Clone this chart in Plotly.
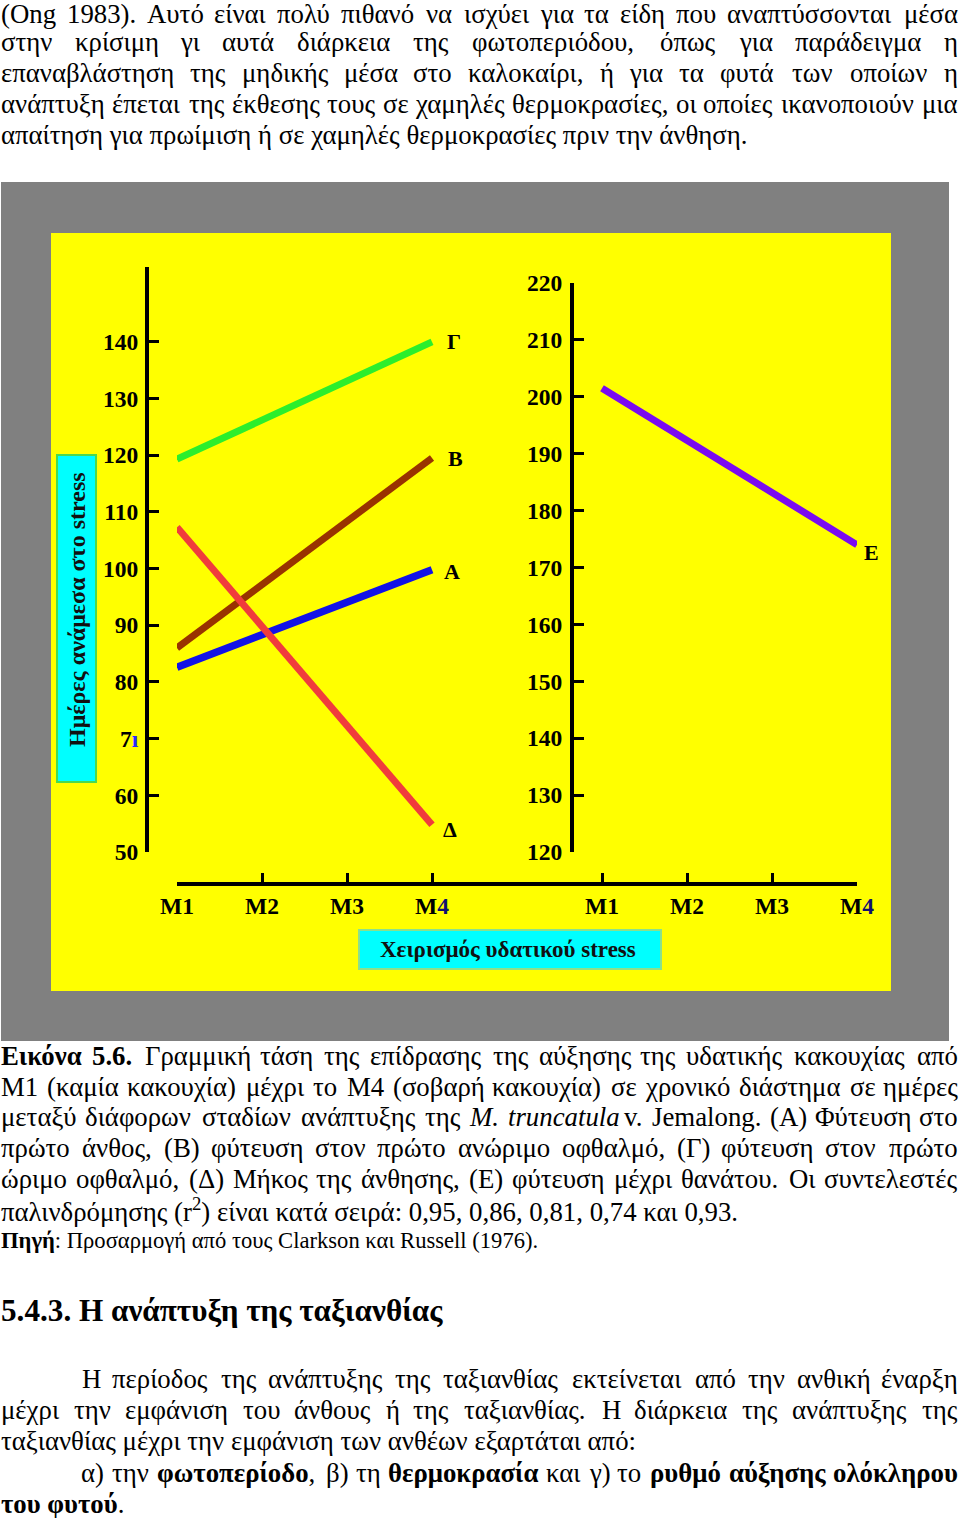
import unicodedata
import plotly.graph_objects as go

W, H = 960, 1518

# ---------------- data ----------------
stress_labels = ["M1", "M2", "M3", "M4"]
stage_pos_left = [0, 1, 2, 3]
stage_pos_right = [5, 6, 7, 8]
trend_x_left = [0, 3]          # M1 -> M4 (left panel)
trend_x_right = [5, 8]         # M1 -> M4 (right panel)

days_A = [82.6, 99.8]          # planting to first flower
days_B = [86.0, 119.5]         # planting to first immature pod
days_G = [119.3, 140.0]        # planting to first mature pod
days_D = [107.3, 54.8]         # flowering duration
days_E = [201.5, 174.0]        # planting to death (right axis)

left_tick_vals = [50, 60, 70, 80, 90, 100, 110, 120, 130, 140]
left_tick_text = ["50", "60", "7<span style='color:#2a2aff'>ı</span>", "80", "90",
                  "100", "110", "120", "130", "140"]
left_axis_top = 153.2
right_tick_vals = [120, 130, 140, 150, 160, 170, 180, 190, 200, 210, 220]
right_tick_text = ["120", "130", "140", "150", "160", "170", "180", "190", "200", "210", "220"]

top_lines = [
    "(Ong 1983). Αυτό είναι πολύ πιθανό να ισχύει για τα είδη που αναπτύσσονται μέσα",
    "στην κρίσιμη γι αυτά διάρκεια της φωτοπεριόδου, όπως για παράδειγμα η",
    "επαναβλάστηση της μηδικής μέσα στο καλοκαίρι, ή για τα φυτά των οποίων η",
    "ανάπτυξη έπεται της έκθεσης τους σε χαμηλές θερμοκρασίες, οι οποίες ικανοποιούν μια",
    "απαίτηση για πρωίμιση ή σε χαμηλές θερμοκρασίες πριν την άνθηση.",
]
caption_lines = [
    "<b>Εικόνα</b> <b>5.6.</b> Γραμμική τάση της επίδρασης της αύξησης της υδατικής κακουχίας από",
    "M1 (καμία κακουχία) μέχρι το M4 (σοβαρή κακουχία) σε χρονικό διάστημα σε ημέρες",
    "μεταξύ διάφορων σταδίων ανάπτυξης της <i>M.</i> <i>truncatula</i> v. Jemalong. (A) Φύτευση στο",
    "πρώτο άνθος, (B) φύτευση στον πρώτο ανώριμο οφθαλμό, (Γ) φύτευση στον πρώτο",
    "ώριμο οφθαλμό, (Δ) Μήκος της άνθησης, (E) φύτευση μέχρι θανάτου. Οι συντελεστές",
    "παλινδρόμησης (r<sup>2</sup>) είναι κατά σειρά: 0,95, 0,86, 0,81, 0,74 και 0,93.",
]
source_line = "<b>Πηγή</b>: Προσαρμογή από τους Clarkson και Russell (1976)."
heading = "<b>5.4.3. Η ανάπτυξη της ταξιανθίας</b>"
body_lines = [
    "Η περίοδος της ανάπτυξης της ταξιανθίας εκτείνεται από την ανθική έναρξη",
    "μέχρι την εμφάνιση του άνθους ή της ταξιανθίας. Η διάρκεια της ανάπτυξης της",
    "ταξιανθίας μέχρι την εμφάνιση των ανθέων εξαρτάται από:",
    "α) την <b>φωτοπερίοδο</b>, β) τη <b>θερμοκρασία</b> και γ) το <b>ρυθμό</b> <b>αύξησης</b> <b>ολόκληρου</b>",
    "<b>του φυτού</b>.",
]
y_title = "Ημέρες ανάμεσα στο stress"
x_title = "Χειρισμός υδατικού stress"

# ---------------- helpers ----------------
SERIF = "Liberation Serif"


def fx(p):
    return p / W


def fy(p):
    return 1 - p / H


CW = {' ': .25, ',': .25, '.': .25, ':': .278, ';': .278, '(': .333, ')': .333, '-': .333}
for c in '0123456789':
    CW[c] = .5
CW.update({'a': .444, 'b': .5, 'c': .444, 'd': .5, 'e': .444, 'f': .333, 'g': .5, 'h': .5,
           'i': .278, 'j': .278, 'k': .5, 'l': .278, 'm': .778, 'n': .5, 'o': .5, 'p': .5,
           'q': .5, 'r': .333, 's': .389, 't': .278, 'u': .5, 'v': .5, 'w': .722, 'x': .5,
           'y': .5, 'z': .444,
           'A': .722, 'B': .667, 'C': .667, 'D': .722, 'E': .611, 'F': .556, 'G': .722,
           'H': .722, 'I': .333, 'J': .389, 'K': .722, 'L': .611, 'M': .889, 'N': .722,
           'O': .722, 'P': .556, 'Q': .722, 'R': .667, 'S': .556, 'T': .611, 'U': .722,
           'V': .722, 'W': .944, 'X': .722, 'Y': .722, 'Z': .611})
GREEK = {'α': .55, 'β': .52, 'γ': .47, 'δ': .52, 'ε': .44, 'ζ': .45, 'η': .52, 'θ': .52,
         'ι': .29, 'κ': .52, 'λ': .5, 'μ': .55, 'ν': .49, 'ξ': .45, 'ο': .52, 'π': .55,
         'ρ': .52, 'σ': .55, 'ς': .44, 'τ': .45, 'υ': .51, 'φ': .65, 'χ': .49, 'ψ': .7,
         'ω': .71,
         'Α': .72, 'Β': .67, 'Γ': .6, 'Δ': .66, 'Ε': .61, 'Ζ': .61, 'Η': .72, 'Θ': .72,
         'Ι': .33, 'Κ': .72, 'Λ': .7, 'Μ': .89, 'Ν': .72, 'Ξ': .65, 'Ο': .72, 'Π': .72,
         'Ρ': .56, 'Σ': .6, 'Τ': .61, 'Υ': .72, 'Φ': .76, 'Χ': .72, 'Ψ': .8, 'Ω': .77}
GREEK_SCALE = 0.955
CW.update({k: v * GREEK_SCALE for k, v in GREEK.items()})


def char_w(ch):
    if ch in CW:
        return CW[ch]
    base = unicodedata.normalize('NFD', ch)[0]
    return CW.get(base, .5)


def markup_width(s, size):
    bold = sup = False
    w = 0.0
    i = 0
    while i < len(s):
        if s[i] == '<':
            j = s.index('>', i)
            tag = s[i + 1:j]
            if tag == 'b':
                bold = True
            elif tag == '/b':
                bold = False
            elif tag == 'sup':
                sup = True
            elif tag == '/sup':
                sup = False
            i = j + 1
            continue
        cw = char_w(s[i])
        if bold:
            cw *= 1.06
        if sup:
            cw *= 0.7
        w += cw
        i += 1
    return w * size


annotations = []
ASC, DESC = 0.891, 0.216


def text_line(markup, x0, x1, baseline, size, justify):
    yc = fy(baseline - (ASC - DESC) / 2 * size)
    font = dict(family=SERIF, size=size, color="black")
    if not justify:
        annotations.append(dict(text=markup, x=fx(x0), y=yc, xref="paper", yref="paper",
                                xanchor="left", yanchor="middle", showarrow=False,
                                borderpad=0, borderwidth=0, font=font))
        return
    words = markup.split(' ')
    widths = [markup_width(w, size) for w in words]
    gap = (x1 - x0 - sum(widths)) / (len(words) - 1)
    gap = max(gap, 0.15 * size)
    pos = x0
    for k, wd in enumerate(words):
        last = k == len(words) - 1
        annotations.append(dict(text=wd, x=fx(x1 if last else pos), y=yc,
                                xref="paper", yref="paper",
                                xanchor="right" if last else "left", yanchor="middle",
                                showarrow=False, borderpad=0, borderwidth=0, font=font))
        pos += widths[k] + gap


BODY = 26.8
# top paragraph
top_base = [23.5, 51, 82, 113, 144.5]
for k, ln in enumerate(top_lines):
    text_line(ln, 1, 958, top_base[k], BODY, k < 4)
# caption
cap_base = [1065, 1096, 1126.5, 1157.5, 1188.5, 1219]
for k, ln in enumerate(caption_lines):
    text_line(ln, 1, 958, cap_base[k], BODY, k < 5)
text_line(source_line, 1, 958, 1248, 22.6, False)
# heading
text_line(heading, 1, 958, 1321, 31.2, False)
# body
body_base = [1388.5, 1419.5, 1450.5, 1482, 1513]
body_x0 = [82, 1, 1, 81, 1]
body_just = [True, True, False, True, False]
for k, ln in enumerate(body_lines):
    text_line(ln, body_x0[k], 958, body_base[k], BODY, body_just[k])

# ---------------- chart ----------------
CHART_FONT = dict(family=SERIF, size=23.5, color="black")
fig = go.Figure()
series = [
    (days_G, "#2CEE2C", 7),
    (days_B, "#993300", 7),
    (days_A, "#1212E6", 7.5),
    (days_D, "#F03C3C", 7),
]
for vals, col, lw in series:
    fig.add_trace(go.Scatter(x=trend_x_left, y=vals, mode="lines", xaxis="x", yaxis="y",
                             line=dict(color=col, width=lw), hoverinfo="skip"))
fig.add_trace(go.Scatter(x=trend_x_right, y=days_E, mode="lines", xaxis="x", yaxis="y2",
                         line=dict(color="#7A0AF0", width=7), hoverinfo="skip"))

# series labels attached to the end of each trend line
labels = [("Γ", trend_x_left[1], days_G[1], "y", 22, 0),
          ("B", trend_x_left[1], days_B[1], "y", 23, 0),
          ("A", trend_x_left[1], days_A[1], "y", 20, -2),
          ("Δ", trend_x_left[1], days_D[1], "y", 18, -5),
          ("E", trend_x_right[1], days_E[1], "y2", 14, -8)]
for t, xv, yv, ya, xs, ys in labels:
    annotations.append(dict(text="<b>%s</b>" % t, x=xv, y=yv, xref="x", yref=ya,
                            xshift=xs, yshift=ys, showarrow=False,
                            xanchor="center", yanchor="middle",
                            font=dict(family=SERIF, size=22, color="black")))

annotations.append(dict(text="<b>%s</b>" % y_title, x=fx(77), y=fy(610), xref="paper",
                        yref="paper", textangle=-90, showarrow=False,
                        xanchor="center", yanchor="middle",
                        font=dict(family=SERIF, size=24, color="#111111")))
annotations.append(dict(text="<b>%s</b>" % x_title, x=fx(508), y=fy(949), xref="paper",
                        yref="paper", showarrow=False, xanchor="center", yanchor="middle",
                        font=dict(family=SERIF, size=23, color="#111111")))

shapes = [
    dict(type="rect", xref="paper", yref="paper", x0=fx(1), x1=fx(949), y0=fy(1041),
         y1=fy(182), fillcolor="#808080", line=dict(width=0), layer="below"),
    dict(type="rect", xref="paper", yref="paper", x0=fx(51), x1=fx(891), y0=fy(991),
         y1=fy(233), fillcolor="#FFFF00", line=dict(width=0), layer="below"),
    dict(type="rect", xref="paper", yref="paper", x0=fx(57), x1=fx(96), y0=fy(782),
         y1=fy(455), fillcolor="#00FFFF", line=dict(color="#4CD94C", width=2), layer="below"),
    dict(type="rect", xref="paper", yref="paper", x0=fx(359), x1=fx(661), y0=fy(969),
         y1=fy(930), fillcolor="#00FFFF", line=dict(color="#8BE08B", width=2), layer="below"),
]

axis_common = dict(showline=True, linecolor="black", linewidth=4, ticks="inside",
                   tickcolor="black", tickwidth=3, showgrid=False, zeroline=False,
                   tickmode="array", tickfont=CHART_FONT, fixedrange=True,
                   automargin=False)

fig.update_layout(
    width=W, height=H, margin=dict(l=0, r=0, t=0, b=0, pad=0, autoexpand=False),
    paper_bgcolor="white", plot_bgcolor="rgba(0,0,0,0)", showlegend=False,
    xaxis=dict(domain=[fx(177), fx(857)], range=[0, 8], anchor="free", position=fy(884),
               ticklen=9, tickvals=stage_pos_left + stage_pos_right,
               ticktext=["<b>%s</b>" % s if s != "M4" else
                         "<b>M<span style='color:#101070'>4</span></b>"
                         for s in stress_labels * 2],
               **axis_common),
    yaxis=dict(domain=[fy(852), fy(267)], range=[50, left_axis_top], anchor="free",
               position=fx(147), side="left", ticklen=10, tickvals=left_tick_vals,
               ticktext=["<b>%s</b>" % s for s in left_tick_text], ticklabelstandoff=2,
               minor=dict(tickmode="array", tickvals=[left_axis_top], ticks="inside",
                          ticklen=10, tickwidth=3, tickcolor="black", showgrid=False),
               **axis_common),
    yaxis2=dict(domain=[fy(852), fy(283)], range=[120, 220], anchor="free",
                position=fx(572), side="left", ticklen=10, tickvals=right_tick_vals,
                ticktext=["<b>%s</b>" % s for s in right_tick_text], ticklabelstandoff=3,
                **axis_common),
    shapes=shapes,
    annotations=annotations,
)

fig.write_html("out.html")
